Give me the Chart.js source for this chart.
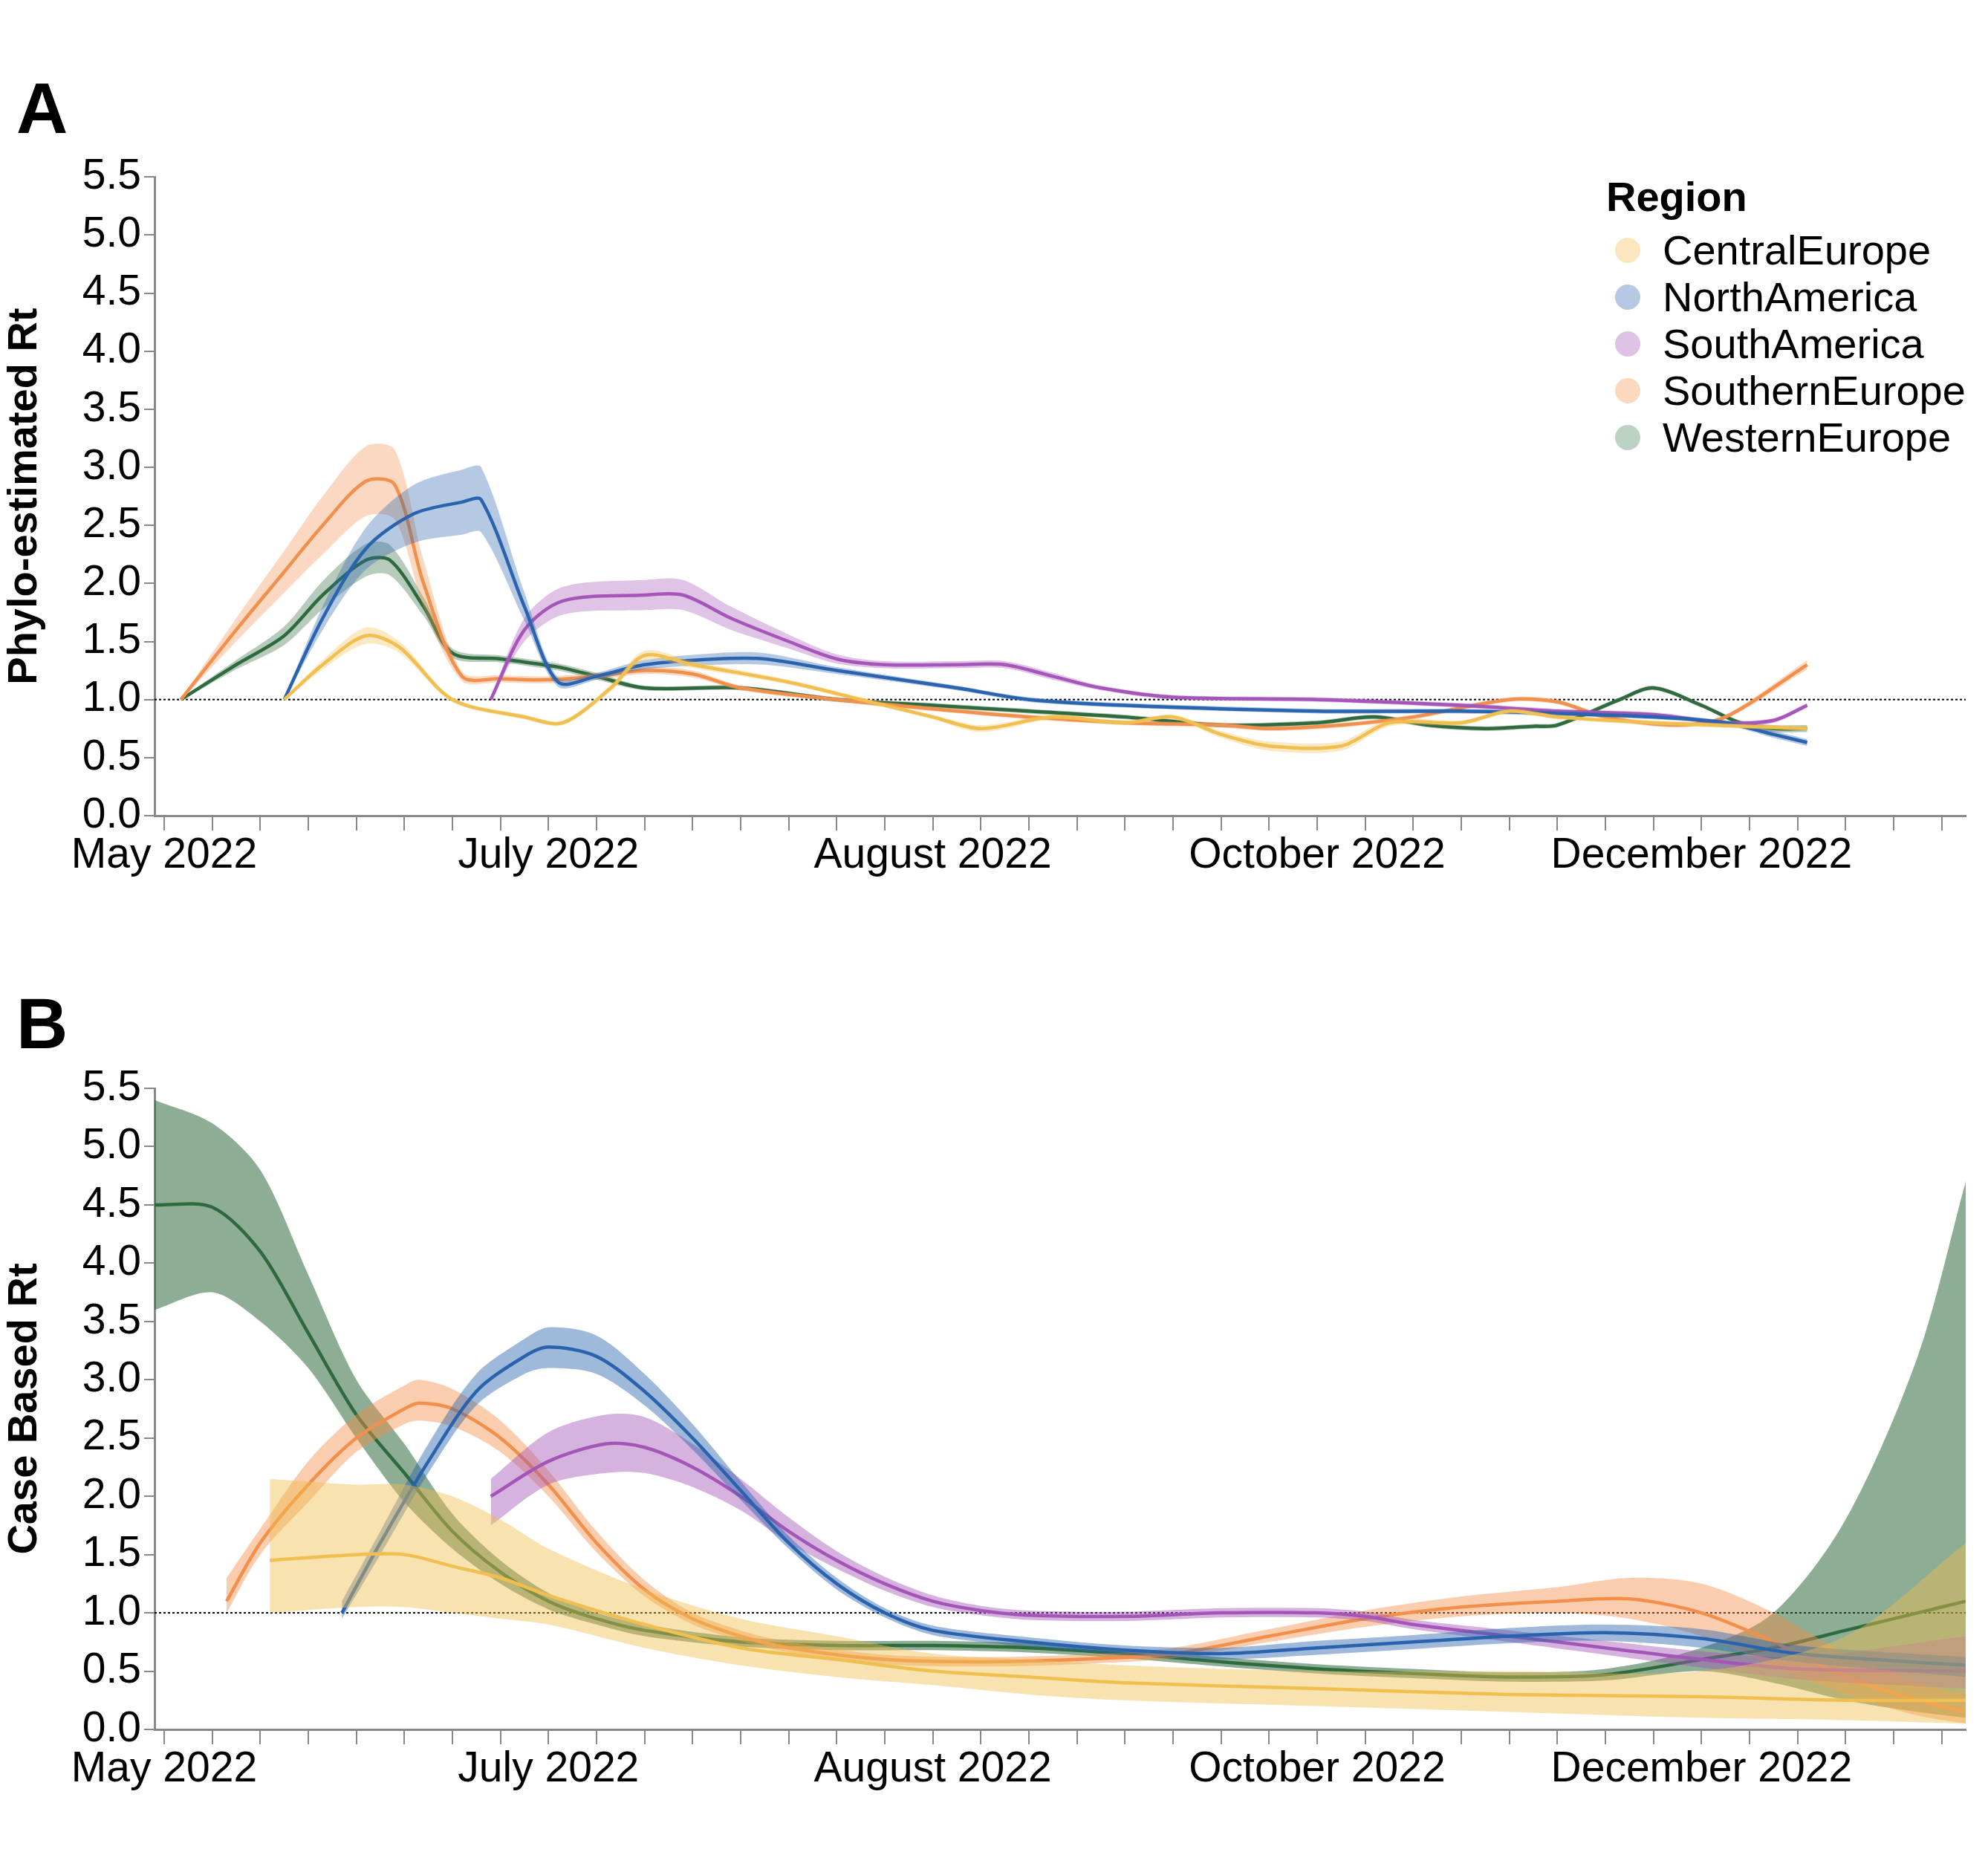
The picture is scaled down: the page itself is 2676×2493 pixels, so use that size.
<!DOCTYPE html>
<html>
<head>
<meta charset="utf-8">
<script src="https://cdn.jsdelivr.net/npm/chart.js@4.4.1/dist/chart.umd.min.js"></script>
<style>
  body { margin: 0; background: #fff; width: 2676px; height: 2493px; position: relative; font-family: "Liberation Sans", Arial, sans-serif; }
  .panel { position: absolute; left: 0; width: 2676px; }
  .letter { position: absolute; left: 22px; font-weight: bold; font-size: 96px; line-height: 1; }
  #legend { position: absolute; left: 2162px; top: 232px; font-size: 56px; }
  #legend .ttl { font-weight: bold; margin-bottom: 8px; }
  #legend .row { height: 63px; display: flex; align-items: center; }
  #legend .dot { width: 34px; height: 34px; border-radius: 50%; margin: 0 30px 0 12px; }
</style>
</head>
<body>
<div class="letter" style="top:98px">A</div>
<div class="letter" style="top:1330px">B</div>
<div class="panel" style="top:200px;height:1000px"><canvas id="chartA"></canvas></div>
<div class="panel" style="top:1420px;height:1010px"><canvas id="chartB"></canvas></div>
<div id="legend"><div class="ttl">Region</div></div>
<script>
// x values are weeks since start of May 2022
const TICK_LABELS = { 0: 'May 2022', 8: 'July 2022', 16: 'August 2022', 24: 'October 2022', 32: 'December 2022' };
const REGIONS = ['CentralEurope', 'NorthAmerica', 'SouthAmerica', 'SouthernEurope', 'WesternEurope'];
const LINE_COLORS = ['#f0bf50', '#2a63ae', '#a557b8', '#f2904c', '#2f6a3e'];
const LEGEND_COLORS = ['#fbe6c0', '#b5c8e4', '#dfc3e6', '#fbd8be', '#bcd2c2'];

// ---- Panel A: phylo-estimated Rt ----
const A_central_w = [2.5, 3.3, 4.2, 4.9, 6, 7.5, 8.3, 9.3, 10, 11, 13, 14.5, 16, 17, 18.5, 20, 21, 22, 23, 24.5, 25.5, 27, 28, 29, 31, 34.2];
const A_central_m = [1.0, 1.3, 1.55, 1.45, 1.0, 0.85, 0.8, 1.1, 1.38, 1.3, 1.15, 1.0, 0.85, 0.75, 0.85, 0.8, 0.85, 0.7, 0.6, 0.6, 0.8, 0.8, 0.9, 0.85, 0.8, 0.75];
const A_central_h = [0.01, 0.04, 0.07, 0.05, 0.02, 0.02, 0.02, 0.03, 0.04, 0.03, 0.02, 0.02, 0.02, 0.03, 0.02, 0.02, 0.02, 0.03, 0.04, 0.04, 0.03, 0.02, 0.02, 0.02, 0.02, 0.02];

const A_north_w = [2.5, 3.3, 4.2, 5.2, 6.2, 6.6, 7.5, 8.2, 9, 10, 11.5, 12.5, 14, 16.5, 18, 20, 24, 27, 29, 31, 32.5, 33.5, 34.2];
const A_north_m = [1.0, 1.7, 2.3, 2.6, 2.7, 2.72, 1.8, 1.15, 1.2, 1.3, 1.35, 1.35, 1.25, 1.1, 1.0, 0.95, 0.9, 0.9, 0.88, 0.85, 0.8, 0.7, 0.63];
const A_north_h = [0.01, 0.1, 0.18, 0.25, 0.28, 0.28, 0.12, 0.04, 0.03, 0.04, 0.05, 0.05, 0.03, 0.02, 0.02, 0.02, 0.02, 0.02, 0.02, 0.02, 0.02, 0.03, 0.03];

const A_south_w = [6.8, 7.5, 8.3, 10, 10.8, 11.8, 13, 14, 15, 16.5, 17.5, 18.5, 19.5, 21, 24, 27, 29, 31, 32.5, 33.5, 34.2];
const A_south_m = [1.0, 1.6, 1.85, 1.9, 1.9, 1.7, 1.5, 1.35, 1.3, 1.3, 1.3, 1.2, 1.1, 1.02, 1.0, 0.95, 0.9, 0.87, 0.8, 0.82, 0.95];
const A_south_h = [0.01, 0.1, 0.12, 0.13, 0.13, 0.1, 0.06, 0.04, 0.03, 0.03, 0.03, 0.03, 0.02, 0.02, 0.02, 0.02, 0.02, 0.02, 0.02, 0.02, 0.02];

const A_southern_w = [0.35, 1.5, 2.5, 3.3, 4.2, 4.8, 5.4, 6.2, 7, 7.9, 9, 10, 11, 12, 14, 16, 18, 20, 22, 23, 24.5, 26, 28, 29, 30, 31.5, 32.5, 34.2];
const A_southern_m = [1.0, 1.6, 2.1, 2.5, 2.88, 2.85, 2.0, 1.2, 1.18, 1.17, 1.2, 1.25, 1.22, 1.1, 1.0, 0.92, 0.85, 0.8, 0.78, 0.75, 0.78, 0.85, 1.0, 0.98, 0.85, 0.78, 0.85, 1.3];
const A_southern_h = [0.01, 0.1, 0.18, 0.25, 0.3, 0.3, 0.2, 0.04, 0.03, 0.03, 0.03, 0.03, 0.03, 0.02, 0.02, 0.02, 0.02, 0.02, 0.02, 0.02, 0.02, 0.02, 0.02, 0.02, 0.02, 0.02, 0.02, 0.04];

const A_western_w = [0.35, 1.5, 2.5, 3.3, 4.2, 4.7, 5.4, 6.0, 7, 8.2, 9, 10, 12, 14, 16, 18, 20, 22, 24, 25.2, 26.3, 27.5, 28.5, 29, 30.3, 31, 32, 32.8, 33.5, 34.2];
const A_western_m = [1.0, 1.3, 1.55, 1.9, 2.2, 2.2, 1.8, 1.4, 1.35, 1.28, 1.2, 1.1, 1.1, 1.0, 0.95, 0.9, 0.85, 0.78, 0.8, 0.85, 0.78, 0.75, 0.77, 0.78, 1.0, 1.1, 0.95, 0.8, 0.75, 0.75];
const A_western_h = [0.01, 0.04, 0.08, 0.12, 0.14, 0.13, 0.08, 0.04, 0.03, 0.03, 0.03, 0.02, 0.02, 0.02, 0.02, 0.02, 0.02, 0.02, 0.02, 0.02, 0.02, 0.02, 0.02, 0.02, 0.02, 0.02, 0.02, 0.02, 0.03, 0.03];

// ---- Panel B: case based Rt ----
const B_central_w = [2.2, 4, 5, 6, 7, 8, 10, 12, 14, 16, 18, 20, 24, 28, 32, 35, 37.5];
const B_central_m = [1.45, 1.5, 1.5, 1.4, 1.3, 1.15, 0.9, 0.7, 0.6, 0.5, 0.45, 0.4, 0.35, 0.3, 0.28, 0.25, 0.25];
const B_central_lo = [1.0, 1.05, 1.05, 1.0, 0.95, 0.9, 0.7, 0.55, 0.45, 0.38, 0.3, 0.25, 0.2, 0.15, 0.1, 0.08, 0.05];
const B_central_hi = [2.15, 2.1, 2.1, 2.0, 1.8, 1.55, 1.2, 0.95, 0.8, 0.65, 0.6, 0.55, 0.5, 0.5, 0.5, 0.8, 1.6];

const B_north_w = [3.7, 4.5, 5.5, 6.5, 7.5, 8, 9, 10, 11, 12, 13, 14, 15, 16, 18, 20, 22, 24, 26, 28, 30, 32, 34, 37.5];
const B_north_m = [1.0, 1.6, 2.3, 2.9, 3.2, 3.28, 3.2, 2.9, 2.5, 2.05, 1.6, 1.25, 1.0, 0.85, 0.75, 0.68, 0.65, 0.7, 0.75, 0.8, 0.83, 0.78, 0.65, 0.55];
const B_north_lo = [0.95, 1.5, 2.2, 2.78, 3.05, 3.1, 3.05, 2.78, 2.4, 1.97, 1.55, 1.2, 0.96, 0.81, 0.71, 0.64, 0.6, 0.64, 0.69, 0.74, 0.76, 0.7, 0.58, 0.45];
const B_north_hi = [1.1, 1.7, 2.45, 3.05, 3.35, 3.45, 3.38, 3.05, 2.62, 2.13, 1.66, 1.3, 1.04, 0.89, 0.79, 0.72, 0.7, 0.76, 0.81, 0.87, 0.9, 0.86, 0.72, 0.62];

const B_south_w = [6.8, 8, 9.2, 10, 11, 12, 13, 14, 15, 16, 17, 18, 20, 22, 24, 25, 26, 28, 30, 32, 34, 37.5];
const B_south_m = [2.0, 2.3, 2.45, 2.42, 2.25, 2.0, 1.7, 1.45, 1.25, 1.1, 1.02, 0.98, 0.97, 1.0, 1.0, 0.97, 0.9, 0.8, 0.7, 0.6, 0.52, 0.5];
const B_south_lo = [1.75, 2.1, 2.2, 2.2, 2.08, 1.88, 1.6, 1.38, 1.19, 1.05, 0.98, 0.94, 0.93, 0.96, 0.96, 0.93, 0.86, 0.75, 0.64, 0.53, 0.43, 0.35];
const B_south_hi = [2.15, 2.55, 2.7, 2.68, 2.45, 2.15, 1.82, 1.53, 1.31, 1.15, 1.06, 1.02, 1.01, 1.04, 1.04, 1.01, 0.94, 0.85, 0.76, 0.67, 0.62, 0.8];

const B_southern_w = [1.3, 2, 3, 4, 5, 5.3, 6, 7, 8, 9, 10, 11, 12, 13, 15, 17, 19, 21, 23, 25, 27, 29, 30.5, 32, 33.5, 35, 36.5, 37.5];
const B_southern_m = [1.1, 1.6, 2.1, 2.5, 2.75, 2.8, 2.75, 2.5, 2.1, 1.6, 1.2, 0.95, 0.8, 0.7, 0.6, 0.58, 0.6, 0.65, 0.8, 0.95, 1.05, 1.1, 1.12, 1.0, 0.75, 0.45, 0.25, 0.15];
const B_southern_lo = [1.0, 1.5, 1.95, 2.38, 2.62, 2.65, 2.6, 2.38, 2.0, 1.52, 1.14, 0.9, 0.76, 0.66, 0.56, 0.54, 0.56, 0.61, 0.75, 0.88, 0.97, 1.0, 0.95, 0.8, 0.55, 0.3, 0.12, 0.05];
const B_southern_hi = [1.3, 1.72, 2.3, 2.7, 2.95, 3.0, 2.92, 2.65, 2.22, 1.7, 1.28, 1.0, 0.85, 0.75, 0.64, 0.62, 0.64, 0.7, 0.86, 1.02, 1.14, 1.22, 1.3, 1.25, 1.0, 0.65, 0.4, 0.3];

const B_western_w = [-0.2, 1, 2, 3, 4, 5, 6, 7, 8, 9, 10, 12, 14, 16, 18, 20, 22, 24, 26, 28, 30, 32, 33.5, 35, 36.5, 37.5];
const B_western_m = [4.5, 4.48, 4.1, 3.4, 2.7, 2.2, 1.7, 1.35, 1.1, 0.95, 0.85, 0.75, 0.72, 0.72, 0.7, 0.65, 0.58, 0.52, 0.48, 0.45, 0.47, 0.6, 0.7, 0.85, 1.0, 1.1];
const B_western_lo = [3.6, 3.75, 3.5, 3.1, 2.5, 1.95, 1.55, 1.25, 1.03, 0.9, 0.8, 0.71, 0.68, 0.68, 0.66, 0.61, 0.54, 0.48, 0.44, 0.41, 0.42, 0.5, 0.4, 0.25, 0.15, 0.1];
const B_western_hi = [5.4, 5.2, 4.8, 3.9, 3.0, 2.45, 1.85, 1.45, 1.17, 1.0, 0.9, 0.79, 0.76, 0.76, 0.74, 0.69, 0.62, 0.56, 0.52, 0.49, 0.52, 0.7, 1.0, 1.8, 3.2, 4.7];

const pts = (w, v) => w.map((x, i) => ({ x, y: v[i] }));

function hexA(hex, a) {
  const n = parseInt(hex.slice(1), 16);
  return `rgba(${n >> 16},${(n >> 8) & 255},${n & 255},${a})`;
}

const TENSION = 0.3;

function seriesSets(color, w, m, lo, hi, alpha) {
  return [
    { data: pts(w, hi), borderWidth: 0, pointRadius: 0, fill: false, tension: TENSION },
    { data: pts(w, lo), borderWidth: 0, pointRadius: 0, fill: '-1', backgroundColor: hexA(color, alpha), tension: TENSION },
    { data: pts(w, m), borderColor: color, borderWidth: 4.5, pointRadius: 0, fill: false, tension: TENSION }
  ];
}

function withHalf(w, m, h) {
  return [w, m, m.map((v, i) => v - h[i]), m.map((v, i) => v + h[i])];
}

const X_MIN = -0.2, X_MAX = 37.5;

function refLine() {
  return { data: [{ x: X_MIN, y: 1 }, { x: X_MAX, y: 1 }], borderColor: '#000', borderWidth: 2, borderDash: [3, 3], pointRadius: 0, fill: false };
}

function makeChart(id, title, groups, alpha, padTop) {
  let datasets = [];
  groups.forEach((g, i) => { datasets = datasets.concat(seriesSets(LINE_COLORS[i], g[0], g[1], g[2], g[3], alpha[i])); });
  datasets.push(refLine());
  const font = { family: '"Liberation Sans", Arial, sans-serif', size: 57 };
  new Chart(document.getElementById(id), {
    type: 'line',
    data: { datasets },
    options: {
      responsive: true, maintainAspectRatio: false, animation: false,
      layout: { padding: { top: padTop, right: 30 } },
      plugins: { legend: { display: false }, tooltip: { enabled: false } },
      scales: {
        x: {
          type: 'linear', min: X_MIN, max: X_MAX,
          afterBuildTicks: s => { const t = []; for (let k = 0; k <= 37; k++) t.push({ value: k }); s.ticks = t; },
          afterFit: s => { s.height = 102; },
          border: { color: '#888', width: 3 },
          grid: { drawOnChartArea: false, drawTicks: true, tickLength: 20, color: '#888', lineWidth: 2 },
          ticks: { autoSkip: false, maxRotation: 0, color: '#000', font, padding: 0, callback: v => TICK_LABELS[v] || '' }
        },
        y: {
          min: 0, max: 5.5,
          afterFit: s => { s.width = 208; },
          border: { color: '#888', width: 3 },
          grid: { drawOnChartArea: false, tickLength: 14, color: '#888', lineWidth: 2 },
          ticks: { stepSize: 0.5, color: '#000', font, padding: 4, callback: v => v.toFixed(1) },
          title: { display: true, text: title, color: '#000', font: { family: font.family, size: 56, weight: 'bold' }, padding: 0 }
        }
      }
    }
  });
}

makeChart('chartA', 'Phylo-estimated Rt', [
  withHalf(A_central_w, A_central_m, A_central_h),
  withHalf(A_north_w, A_north_m, A_north_h),
  withHalf(A_south_w, A_south_m, A_south_h),
  withHalf(A_southern_w, A_southern_m, A_southern_h),
  withHalf(A_western_w, A_western_m, A_western_h)
], [0.35, 0.35, 0.35, 0.35, 0.35], 36);

makeChart('chartB', 'Case Based Rt', [
  [B_central_w, B_central_m, B_central_lo, B_central_hi],
  [B_north_w, B_north_m, B_north_lo, B_north_hi],
  [B_south_w, B_south_m, B_south_lo, B_south_hi],
  [B_southern_w, B_southern_m, B_southern_lo, B_southern_hi],
  [B_western_w, B_western_m, B_western_lo, B_western_hi]
], [0.45, 0.45, 0.45, 0.45, 0.55], 45);

const legend = document.getElementById('legend');
REGIONS.forEach((r, i) => {
  const row = document.createElement('div');
  row.className = 'row';
  row.innerHTML = `<span class="dot" style="background:${LEGEND_COLORS[i]}"></span><span>${r}</span>`;
  legend.appendChild(row);
});
</script>
</body>
</html>
